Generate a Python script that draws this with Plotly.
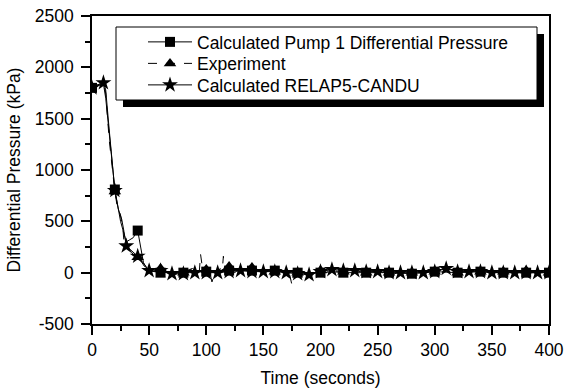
import plotly.graph_objects as go

# ---- data ----
pump_t = [0, 5, 10, 12, 15, 20, 25, 30, 33, 36, 40, 42, 45, 48, 50, 55, 60, 70, 80, 85, 88, 92, 100, 110, 120,
          130, 140, 150, 160, 170, 180, 190, 200, 210, 220, 240, 260, 280, 300, 320, 340, 360, 380, 400]
pump_p = [1800, 1820, 1840, 1700, 1350, 810, 500, 300, 320, 340, 410, 300, 100, 40, 20, 10, 0, 10, 0, 30, 40, 10,
          10, 0, 20, 20, 20, 10, 20, 10, 0, 0, 0, 10, 0, 0, 0, -10, 10, 0, 10, 0, 0, 0]
pump_mk_t = [0, 20, 40, 60, 80, 100, 120, 140, 160, 180, 200, 220, 240, 260, 280, 300, 320, 340, 360, 380, 400]
pump_mk_p = [1800, 810, 410, 0, 0, 10, 20, 20, 20, 0, 0, 0, 0, 0, -10, 10, 0, 10, 0, 0, 0]

exp_t = [0, 5, 10, 12, 15, 18, 20, 22, 25, 27, 28, 30, 33, 36, 40, 43, 46, 50, 55, 60, 62, 65, 68, 70, 72, 75, 78,
         80, 82, 85, 88, 90, 92, 94, 95, 96, 97, 99, 100, 102, 104, 105, 107, 108, 110, 112, 114, 115, 116, 118,
         120, 122, 125, 128, 130, 133, 136, 139, 140, 142, 145, 148, 150, 153, 156, 160, 163, 166, 170, 173, 175,
         176, 178, 180, 183, 186, 190, 193, 196, 200, 205, 210, 215, 220, 225, 230, 235, 240, 245, 250, 255, 260,
         265, 270, 275, 280, 285, 290, 295, 300, 305, 310, 315, 320, 325, 330, 340, 350, 360, 370, 380, 390, 400]
exp_p = [1800, 1830, 1850, 1750, 1300, 950, 790, 650, 560, 430, 300, 250, 220, 180, 150, 110, 60, 30, 20, 40, 30,
         10, -10, 0, -20, -10, 10, 0, -20, 20, 40, 30, 0, 20, 180, 80, 20, -30, 30, 0, -40, -90, -20, 20, 0, 40,
         20, 160, 40, 10, 60, 20, 0, 30, 10, 30, 0, 20, 50, 0, 10, 30, 0, 20, 10, 10, -10, 20, 0, -20, -120, -30,
         10, 0, 20, -10, 0, -30, 10, 20, 0, 30, 10, 10, 0, 20, 10, 0, 10, 0, 10, 0, -10, 10, 0, 0, 10, 0, 10, 10,
         0, 20, 0, 0, 10, 0, 10, 0, 10, 0, 20, 0, 0]
exp_mk_t = [20, 40, 60, 80, 100, 120, 140, 160, 180, 200, 220, 240, 260, 280, 300, 320, 340, 360, 380, 400]
exp_mk_p = [790, 150, 40, 0, 30, 60, 50, 10, 0, 20, 10, 0, 0, 0, 10, 0, 10, 10, 20, 0]

relap_t = [0, 5, 10, 12, 15, 20, 23, 26, 28, 30, 33, 36, 40, 43, 47, 50, 55, 60, 65, 70, 75, 80, 85, 90, 95, 100,
           105, 110, 120, 130, 140, 150, 160, 170, 180, 190, 200, 210, 220, 230, 240, 250, 260, 270, 280, 290, 300,
           310, 320, 330, 340, 350, 360, 370, 380, 390, 400]
relap_p = [1800, 1830, 1850, 1780, 1400, 800, 620, 520, 400, 260, 230, 200, 160, 120, 60, 20, 10, 20, 0, -10, -10,
           -10, 0, 0, 10, 0, 0, 0, 10, 20, 10, 10, 10, 0, -10, -20, 10, 30, 20, 20, 10, 10, 0, 0, 0, 0, 10, 40, 10,
           10, 10, 0, 0, 0, 0, 0, 0]
relap_mk_t = [0, 10, 20, 30, 40, 50, 60, 70, 80, 90, 100, 110, 120, 130, 140, 150, 160, 170, 180, 190, 200, 210,
              220, 230, 240, 250, 260, 270, 280, 290, 300, 310, 320, 330, 340, 350, 360, 370, 380, 390, 400]
relap_mk_p = [1800, 1850, 800, 260, 160, 20, 20, -10, -10, 0, 0, 0, 10, 20, 10, 10, 10, 0, -10, -20, 10, 30, 20,
              20, 10, 10, 0, 0, 0, 0, 10, 40, 10, 10, 10, 0, 0, 0, 0, 0, 0]

names = ["Calculated Pump 1 Differential Pressure", "Experiment", "Calculated RELAP5-CANDU"]

x_tickvals = [0, 50, 100, 150, 200, 250, 300, 350, 400]
x_ticktext = ["0", "50", "100", "150", "200", "250", "300", "350", "400"]
y_tickvals = [-500, 0, 500, 1000, 1500, 2000, 2500]
y_ticktext = ["-500", "0", "500", "1000", "1500", "2000", "2500"]

FONT = "Liberation Sans, Arial, sans-serif"
FS = 17.5
fig = go.Figure()

# lines
fig.add_trace(go.Scatter(x=exp_t, y=exp_p, mode="lines", line=dict(color="black", width=1, dash="dash"),
                         showlegend=False, hoverinfo="skip"))
fig.add_trace(go.Scatter(x=relap_t, y=relap_p, mode="lines", line=dict(color="black", width=1),
                         showlegend=False, hoverinfo="skip"))
fig.add_trace(go.Scatter(x=pump_t, y=pump_p, mode="lines", line=dict(color="black", width=1),
                         showlegend=False, hoverinfo="skip"))
# markers
fig.add_trace(go.Scatter(x=relap_mk_t, y=relap_mk_p, mode="markers",
                         marker=dict(symbol="star", size=12, color="black"), showlegend=False))
fig.add_trace(go.Scatter(x=exp_mk_t, y=exp_mk_p, mode="markers",
                         marker=dict(symbol="triangle-up", size=11, color="black"), showlegend=False))
fig.add_trace(go.Scatter(x=pump_mk_t, y=pump_mk_p, mode="markers",
                         marker=dict(symbol="square", size=10, color="black"), showlegend=False))

# legend entries (one legend per row for precise spacing)
fig.add_trace(go.Scatter(x=[None], y=[None], mode="lines+markers", name=names[0], legend="legend",
                         line=dict(color="black", width=1), marker=dict(symbol="square", size=10, color="black")))
fig.add_trace(go.Scatter(x=[None], y=[None], mode="lines+markers", name=names[1], legend="legend2",
                         line=dict(color="black", width=1, dash="dash"),
                         marker=dict(symbol="triangle-up", size=11, color="black")))
fig.add_trace(go.Scatter(x=[None], y=[None], mode="lines+markers", name=names[2], legend="legend3",
                         line=dict(color="black", width=1), marker=dict(symbol="star", size=12, color="black")))

axis_common = dict(showgrid=False, zeroline=False, showline=True, linecolor="black", linewidth=1.5,
                   mirror=True, ticks="outside", tickcolor="black", tickwidth=1.5, ticklen=9,
                   automargin=False,
                   tickfont=dict(family=FONT, size=FS, color="black"),
                   minor=dict(ticks="outside", ticklen=5, tickcolor="black", tickwidth=1.5))

fig.update_xaxes(range=[0, 400], tickvals=x_tickvals, ticktext=x_ticktext, minor_dtick=25, minor_tick0=0,
                 title=dict(text="Time (seconds)", font=dict(family=FONT, size=FS, color="black"), standoff=13),
                 **axis_common)
fig.update_yaxes(range=[-500, 2500], tickvals=y_tickvals, ticktext=y_ticktext, minor_dtick=250, minor_tick0=0,
                 ticklabelstandoff=4,
                 title=dict(text="Differential Pressure (kPa)", font=dict(family=FONT, size=FS, color="black"),
                            standoff=10),
                 **axis_common)

# legend box with shadow
fig.add_shape(type="rect", xref="paper", yref="paper", layer="above",
              x0=(123 - 92) / 457, x1=(544 - 92) / 457, y0=(324 - 107) / 308, y1=(324 - 34) / 308,
              fillcolor="black", line=dict(width=0))
fig.add_shape(type="rect", xref="paper", yref="paper", layer="above",
              x0=(116 - 92) / 457, x1=(537 - 92) / 457, y0=(324 - 100) / 308, y1=(324 - 27) / 308,
              fillcolor="white", line=dict(color="black", width=1))

leg_common = dict(xanchor="left", yanchor="middle", bgcolor="rgba(0,0,0,0)", borderwidth=0,
                  itemwidth=44, font=dict(family=FONT, size=FS, color="black"),
                  x=(143 - 92) / 457)
fig.update_layout(
    width=565, height=390,
    margin=dict(l=92, r=16, t=16, b=66),
    paper_bgcolor="white", plot_bgcolor="white",
    font=dict(family=FONT, size=FS, color="black"),
    legend=dict(y=(324 - 42) / 308, **leg_common),
    legend2=dict(y=(324 - 63.5) / 308, **leg_common),
    legend3=dict(y=(324 - 85) / 308, **leg_common),
    showlegend=True,
)

fig.write_html("out.html")
